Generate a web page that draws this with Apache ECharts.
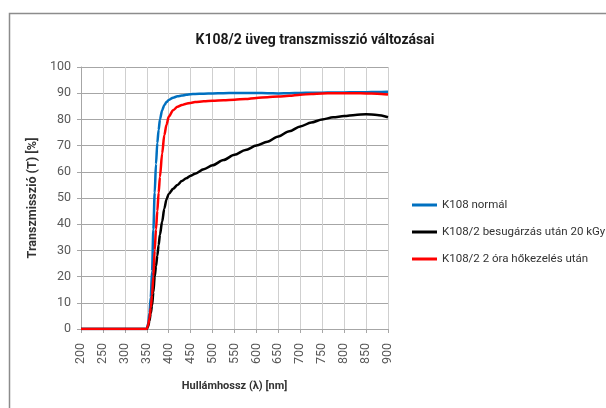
<!DOCTYPE html>
<html>
<head>
<meta charset="utf-8">
<script src="https://cdn.jsdelivr.net/npm/echarts@6/dist/echarts.min.js"></script>
<style>html,body{margin:0;padding:0;background:#fff;}#c{width:606px;height:408px;}</style>
</head>
<body>
<div id="c"></div>
<script>
const wavelengths = [200, 250, 300, 345, 350, 353, 356, 359, 362, 365, 368, 371, 374, 377, 380, 385, 390, 395, 400, 410, 420, 430, 440, 450, 460, 480, 500, 525, 550, 575, 600, 625, 650, 675, 700, 725, 750, 775, 800, 825, 850, 875, 900];
const normal = [0, 0, 0, 0, 0, 2, 6, 12, 22, 38, 52, 63, 71, 76, 80, 83.5, 85.5, 86.6, 87.4, 88.3, 88.8, 89.1, 89.4, 89.6, 89.7, 89.8, 89.9, 90, 90.1, 90.1, 90.1, 90, 89.9, 90, 90.1, 90.2, 90.2, 90.3, 90.3, 90.4, 90.4, 90.5, 90.6];
const irradiated = [0, 0, 0, 0, 0, 1, 3, 6, 9, 14, 20, 24, 28, 32, 36, 41, 46, 49.5, 51.5, 53.5, 55, 56.5, 57.5, 58.5, 59.3, 61, 62.5, 64.5, 66.5, 68.3, 70, 71.5, 73.5, 75.5, 77.3, 78.8, 80, 80.8, 81.3, 81.7, 82, 81.7, 80.8];
const heated = [0, 0, 0, 0, 0, 1.5, 4, 8, 13, 20, 30, 38, 45, 52, 58, 67, 74, 78, 81, 83.5, 84.8, 85.5, 86, 86.3, 86.6, 86.9, 87.1, 87.3, 87.5, 87.8, 88.2, 88.5, 88.7, 89, 89.4, 89.7, 89.9, 90, 90, 90, 89.9, 89.8, 89.5];
const seriesNames = ['K108 normál', 'K108/2 besugárzás után 20 kGy', 'K108/2 2 óra hőkezelés után'];
const seriesColors = ['#0070c0', '#000000', '#ff0000'];
const seriesValues = [normal, irradiated, heated];

const font = "Roboto, 'Liberation Sans', sans-serif";
const chart = echarts.init(document.getElementById('c'), null, {renderer: 'canvas'});
chart.setOption({
  animation: false,
  backgroundColor: '#ffffff',
  textStyle: {fontFamily: font},
  graphic: [{
    type: 'rect', left: 7, top: 11, silent: true,
    shape: {width: 640, height: 440},
    style: {fill: 'none', stroke: '#8c8c8c', lineWidth: 1.5}
  }],
  title: {
    text: 'K108/2 üveg transzmisszió változásai',
    left: 310, top: 28, textAlign: 'center',
    textStyle: {fontFamily: font, fontSize: 14, fontWeight: 'bold', color: '#1a1a1a'}
  },
  legend: {
    orient: 'vertical', left: 407, top: 194, itemGap: 15,
    itemWidth: 25, itemHeight: 3, icon: 'rect',
    data: seriesNames,
    textStyle: {fontFamily: font, fontSize: 11.5, color: '#333'}
  },
  grid: {left: 81, right: 218, top: 67, bottom: 79, containLabel: false},
  xAxis: {
    type: 'value', min: 200, max: 900, interval: 50,
    name: 'Hullámhossz (λ) [nm]', nameLocation: 'middle', nameGap: 52,
    nameTextStyle: {fontFamily: font, fontSize: 11, fontWeight: 'bold', color: '#333'},
    axisLine: {show: true, lineStyle: {color: '#a6a6a6', width: 1}},
    axisTick: {show: true, inside: false, length: 4, lineStyle: {color: '#a6a6a6'}},
    axisLabel: {rotate: 90, fontFamily: font, fontSize: 12.5, color: '#595959', margin: 14},
    splitLine: {show: true, lineStyle: {color: '#cfcfcf', width: 1}}
  },
  yAxis: {
    type: 'value', min: 0, max: 100, interval: 10,
    name: 'Transzmisszió (T) [%]', nameLocation: 'middle', nameGap: 42,
    nameTextStyle: {fontFamily: font, fontSize: 12.5, fontWeight: 'bold', color: '#333'},
    axisLine: {show: true, lineStyle: {color: '#a6a6a6', width: 1}},
    axisTick: {show: true, inside: false, length: 4, lineStyle: {color: '#a6a6a6'}},
    axisLabel: {fontFamily: font, fontSize: 12.5, color: '#595959', margin: 10},
    splitLine: {show: true, lineStyle: {color: '#a6a6a6', width: 1}}
  },
  series: seriesValues.map((vals, i) => ({
    name: seriesNames[i], type: 'line', showSymbol: false, symbol: 'none',
    smooth: 0.3, smoothMonotone: 'x',
    color: seriesColors[i],
    lineStyle: {color: seriesColors[i], width: 2.5},
    data: wavelengths.map((w, j) => [w, vals[j]])
  }))
});
</script>
</body>
</html>
